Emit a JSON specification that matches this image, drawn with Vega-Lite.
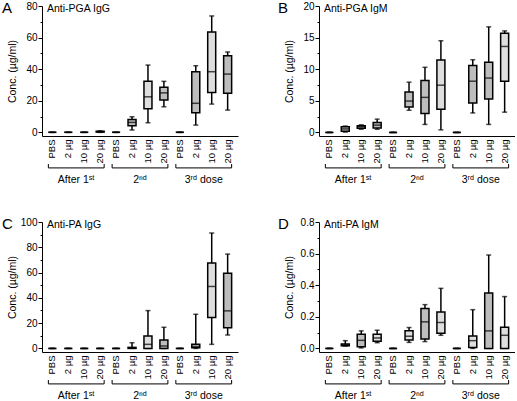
{
"$schema":"https://vega.github.io/schema/vega-lite/v6.json",
"padding":{"left":2,"top":1,"right":0,"bottom":0},
"config":{"view":{"stroke":null},"font":"Liberation Sans",
 "axis":{"domainColor":"black","tickColor":"black","labelColor":"black","titleColor":"black","labelFont":"Liberation Sans","titleFont":"Liberation Sans","labelFontSize":10,"titleFontSize":10.5,"titleFontWeight":"normal","domainWidth":1,"tickWidth":1,"grid":false,"labelOverlap":false},
 "axisX":{"labelFontSize":9.5},
 "title":{"font":"Liberation Sans","fontWeight":"normal","color":"black"}},
"datasets":{
"groups":[{"dose":"After 1ˢᵗ","first":"1|PBS","mid":"1|10 µg","last":"1|20 µg"},{"dose":"2ⁿᵈ","first":"2|PBS","mid":"2|10 µg","last":"2|20 µg"},{"dose":"3ʳᵈ dose","first":"3|PBS","mid":"3|10 µg","last":"3|20 µg"}],
"A":[{"cat":"1|PBS","lo":0,"q1":0,"med":0,"q3":0,"hi":0,"shade":"light"},{"cat":"1|2 µg","lo":0,"q1":0,"med":0,"q3":0,"hi":0,"shade":"light"},{"cat":"1|10 µg","lo":0,"q1":0,"med":0,"q3":0,"hi":0,"shade":"light"},{"cat":"1|20 µg","lo":0,"q1":0.2,"med":0.4,"q3":0.7,"hi":1.0,"shade":"dark"},
{"cat":"2|PBS","lo":0,"q1":0,"med":0,"q3":0,"hi":0,"shade":"light"},{"cat":"2|2 µg","lo":1.5,"q1":4.2,"med":6.3,"q3":8.2,"hi":9.9,"shade":"dark"},{"cat":"2|10 µg","lo":6.1,"q1":15,"med":22.5,"q3":32.3,"hi":42.6,"shade":"light"},{"cat":"2|20 µg","lo":16.2,"q1":20.5,"med":25,"q3":28.5,"hi":32.3,"shade":"dark"},
{"cat":"3|PBS","lo":0,"q1":0,"med":0,"q3":0,"hi":0,"shade":"light"},{"cat":"3|2 µg","lo":4.6,"q1":12.4,"med":18.4,"q3":38.4,"hi":42.2,"shade":"dark"},{"cat":"3|10 µg","lo":17.9,"q1":25.3,"med":38.4,"q3":63.5,"hi":73.7,"shade":"light"},{"cat":"3|20 µg","lo":14.1,"q1":24.7,"med":36.9,"q3":48.5,"hi":50.9,"shade":"dark"}],
"B":[{"cat":"1|PBS","lo":0,"q1":0,"med":0,"q3":0,"hi":0,"shade":"light"},{"cat":"1|2 µg","lo":0.05,"q1":0.2,"med":0.55,"q3":0.9,"hi":1.0,"shade":"dark"},{"cat":"1|10 µg","lo":0.5,"q1":0.65,"med":0.9,"q3":1.05,"hi":1.2,"shade":"dark"},{"cat":"1|20 µg","lo":0.5,"q1":0.7,"med":1.15,"q3":1.55,"hi":2.1,"shade":"dark"},
{"cat":"2|PBS","lo":0,"q1":0,"med":0,"q3":0,"hi":0,"shade":"light"},{"cat":"2|2 µg","lo":3.5,"q1":4.0,"med":4.96,"q3":6.4,"hi":7.95,"shade":"dark"},{"cat":"2|10 µg","lo":1.26,"q1":3.0,"med":5.54,"q3":8.2,"hi":10.3,"shade":"dark"},{"cat":"2|20 µg","lo":0.4,"q1":3.66,"med":7.47,"q3":11.46,"hi":14.5,"shade":"light"},
{"cat":"3|PBS","lo":0,"q1":0,"med":0,"q3":0,"hi":0,"shade":"light"},{"cat":"3|2 µg","lo":3.08,"q1":4.65,"med":8.1,"q3":10.6,"hi":11.5,"shade":"dark"},{"cat":"3|10 µg","lo":1.26,"q1":5.3,"med":8.6,"q3":11.1,"hi":16.7,"shade":"dark"},{"cat":"3|20 µg","lo":3.2,"q1":8.1,"med":13.6,"q3":15.7,"hi":16.06,"shade":"light"}],
"C":[{"cat":"1|PBS","lo":0,"q1":0,"med":0,"q3":0,"hi":0,"shade":"light"},{"cat":"1|2 µg","lo":0,"q1":0,"med":0,"q3":0,"hi":0,"shade":"light"},{"cat":"1|10 µg","lo":0,"q1":0,"med":0,"q3":0,"hi":0,"shade":"light"},{"cat":"1|20 µg","lo":0,"q1":0,"med":0,"q3":0,"hi":0,"shade":"light"},
{"cat":"2|PBS","lo":0,"q1":0,"med":0,"q3":0,"hi":0,"shade":"light"},{"cat":"2|2 µg","lo":0,"q1":0,"med":0.2,"q3":0.8,"hi":4.5,"shade":"dark"},{"cat":"2|10 µg","lo":0,"q1":0,"med":3.2,"q3":9.8,"hi":29.9,"shade":"light"},{"cat":"2|20 µg","lo":0,"q1":0,"med":1.9,"q3":6.6,"hi":16.7,"shade":"dark"},
{"cat":"3|PBS","lo":0,"q1":0,"med":0,"q3":0,"hi":0,"shade":"light"},{"cat":"3|2 µg","lo":0,"q1":0.5,"med":1.5,"q3":3.2,"hi":27,"shade":"dark"},{"cat":"3|10 µg","lo":3.2,"q1":24.4,"med":49,"q3":67.5,"hi":91.3,"shade":"light"},{"cat":"3|20 µg","lo":10.6,"q1":16.4,"med":29.7,"q3":59.5,"hi":74.6,"shade":"dark"}],
"D":[{"cat":"1|PBS","lo":0,"q1":0,"med":0,"q3":0,"hi":0,"shade":"light"},{"cat":"1|2 µg","lo":0.015,"q1":0.017,"med":0.022,"q3":0.028,"hi":0.049,"shade":"dark"},{"cat":"1|10 µg","lo":0.003,"q1":0.011,"med":0.051,"q3":0.09,"hi":0.111,"shade":"dark"},{"cat":"1|20 µg","lo":0.036,"q1":0.045,"med":0.066,"q3":0.09,"hi":0.115,"shade":"light"},
{"cat":"2|PBS","lo":0,"q1":0,"med":0,"q3":0,"hi":0,"shade":"light"},{"cat":"2|2 µg","lo":0.038,"q1":0.053,"med":0.077,"q3":0.111,"hi":0.132,"shade":"light"},{"cat":"2|10 µg","lo":0.043,"q1":0.06,"med":0.168,"q3":0.252,"hi":0.277,"shade":"dark"},{"cat":"2|20 µg","lo":0.083,"q1":0.096,"med":0.164,"q3":0.23,"hi":0.38,"shade":"light"},
{"cat":"3|PBS","lo":0,"q1":0,"med":0,"q3":0,"hi":0,"shade":"light"},{"cat":"3|2 µg","lo":0,"q1":0.006,"med":0.049,"q3":0.079,"hi":0.245,"shade":"light"},{"cat":"3|10 µg","lo":0,"q1":0,"med":0.111,"q3":0.35,"hi":0.591,"shade":"dark"},{"cat":"3|20 µg","lo":0,"q1":0,"med":0.083,"q3":0.134,"hi":0.328,"shade":"light"}]
},
"spacing":30,
"vconcat":[
{"hconcat":[
 {"title":{"text":"A","anchor":"start","frame":"bounds","orient":"top","offset":-15,"baseline":"top","fontSize":15,"dx":-5},
  "spacing":0,
  "vconcat":[
   {"width":196,"height":130,"data":{"name":"A"},
    "title":{"text":"Anti-PGA IgG","anchor":"start","frame":"group","orient":"top","offset":-13,"baseline":"top","fontSize":10.5,"dx":5},
    "layer":[
     {"mark":{"type":"rule","color":"black","strokeWidth":1.5},"encoding":{"x":{"field":"cat","type":"nominal","scale":{"type":"band","domain":["1|PBS","1|2 µg","1|10 µg","1|20 µg","2|PBS","2|2 µg","2|10 µg","2|20 µg","3|PBS","3|2 µg","3|10 µg","3|20 µg"],"paddingInner":0,"paddingOuter":0.15},"axis":{"title":null,"ticks":false,"labelAngle":-90,"labelAlign":"right","labelBaseline":"middle","labelPadding":3,"labelExpr":"split(datum.value,'|')[1]"}},"y":{"field":"lo","type":"quantitative","scale":{"domain":[-2.3,80],"nice":false,"zero":false},"axis":{"title":"Conc. (µg/ml)","titleX":-25,"values":[0,10,20,30,40,50,60,70,80],"tickCount":50,"format":"d","labelOverlap":false,"labelExpr":"datum.value % 20 === 0 ? datum.label : ''","tickSize":{"condition":{"test":"datum.value % 20 === 0","value":4},"value":2},"labelPadding":1}},"y2":{"field":"hi"}}},
     {"mark":{"type":"tick","color":"black","size":5,"thickness":1.5},"encoding":{"x":{"field":"cat","type":"nominal"},"y":{"field":"lo","type":"quantitative"}}},
     {"mark":{"type":"tick","color":"black","size":5,"thickness":1.5},"encoding":{"x":{"field":"cat","type":"nominal"},"y":{"field":"hi","type":"quantitative"}}},
     {"mark":{"type":"bar","stroke":"black","strokeWidth":1.5,"width":8},"encoding":{"x":{"field":"cat","type":"nominal"},"y":{"field":"q1","type":"quantitative"},"y2":{"field":"q3"},"fill":{"field":"shade","type":"nominal","scale":{"domain":["dark","light"],"range":["#bdbdbd","#dedede"]},"legend":null}}},
     {"mark":{"type":"tick","color":"black","size":8,"thickness":1.5},"encoding":{"x":{"field":"cat","type":"nominal"},"y":{"field":"med","type":"quantitative"}}}
    ]},
   {"width":196,"height":23,"data":{"name":"groups"},
    "layer":[
     {"mark":{"type":"rule","color":"black","strokeWidth":1},"encoding":{"x":{"field":"first","type":"nominal","bandPosition":0.25,"scale":{"type":"band","domain":["1|PBS","1|2 µg","1|10 µg","1|20 µg","2|PBS","2|2 µg","2|10 µg","2|20 µg","3|PBS","3|2 µg","3|10 µg","3|20 µg"],"paddingInner":0,"paddingOuter":0.15},"axis":null},"x2":{"field":"last","bandPosition":0.75},"y":{"datum":8.3,"type":"quantitative","scale":{"domain":[0,10],"nice":false,"zero":false},"axis":null}}},
     {"mark":{"type":"rule","color":"black","strokeWidth":1},"encoding":{"x":{"field":"first","type":"nominal","bandPosition":0.25},"y":{"datum":8.3,"type":"quantitative"},"y2":{"datum":10}}},
     {"mark":{"type":"rule","color":"black","strokeWidth":1},"encoding":{"x":{"field":"last","type":"nominal","bandPosition":0.75},"y":{"datum":8.3,"type":"quantitative"},"y2":{"datum":10}}},
     {"mark":{"type":"text","baseline":"alphabetic","fontSize":10.5,"font":"Liberation Sans","color":"black"},"encoding":{"x":{"field":"mid","type":"nominal","bandPosition":0},"y":{"datum":1.7,"type":"quantitative"},"text":{"field":"dose"}}}
    ]}
  ]},
 {"title":{"text":"B","anchor":"start","frame":"bounds","orient":"top","offset":-15,"baseline":"top","fontSize":15,"dx":-6},
  "spacing":0,
  "vconcat":[
   {"width":196,"height":130,"data":{"name":"B"},
    "title":{"text":"Anti-PGA IgM","anchor":"start","frame":"group","orient":"top","offset":-13,"baseline":"top","fontSize":10.5,"dx":5},
    "layer":[
     {"mark":{"type":"rule","color":"black","strokeWidth":1.5},"encoding":{"x":{"field":"cat","type":"nominal","scale":{"type":"band","domain":["1|PBS","1|2 µg","1|10 µg","1|20 µg","2|PBS","2|2 µg","2|10 µg","2|20 µg","3|PBS","3|2 µg","3|10 µg","3|20 µg"],"paddingInner":0,"paddingOuter":0.15},"axis":{"title":null,"ticks":false,"labelAngle":-90,"labelAlign":"right","labelBaseline":"middle","labelPadding":3,"labelExpr":"split(datum.value,'|')[1]"}},"y":{"field":"lo","type":"quantitative","scale":{"domain":[-0.57,20],"nice":false,"zero":false},"axis":{"title":"Conc. (µg/ml)","titleX":-25,"values":[0,2.5,5,7.5,10,12.5,15,17.5,20],"tickCount":50,"format":"~g","labelOverlap":false,"labelExpr":"datum.value % 5 === 0 ? datum.label : ''","tickSize":{"condition":{"test":"datum.value % 5 === 0","value":4},"value":2},"labelPadding":1}},"y2":{"field":"hi"}}},
     {"mark":{"type":"tick","color":"black","size":5,"thickness":1.5},"encoding":{"x":{"field":"cat","type":"nominal"},"y":{"field":"lo","type":"quantitative"}}},
     {"mark":{"type":"tick","color":"black","size":5,"thickness":1.5},"encoding":{"x":{"field":"cat","type":"nominal"},"y":{"field":"hi","type":"quantitative"}}},
     {"mark":{"type":"bar","stroke":"black","strokeWidth":1.5,"width":8},"encoding":{"x":{"field":"cat","type":"nominal"},"y":{"field":"q1","type":"quantitative"},"y2":{"field":"q3"},"fill":{"field":"shade","type":"nominal","scale":{"domain":["dark","light"],"range":["#bdbdbd","#dedede"]},"legend":null}}},
     {"mark":{"type":"tick","color":"black","size":8,"thickness":1.5},"encoding":{"x":{"field":"cat","type":"nominal"},"y":{"field":"med","type":"quantitative"}}}
    ]},
   {"width":196,"height":23,"data":{"name":"groups"},
    "layer":[
     {"mark":{"type":"rule","color":"black","strokeWidth":1},"encoding":{"x":{"field":"first","type":"nominal","bandPosition":0.25,"scale":{"type":"band","domain":["1|PBS","1|2 µg","1|10 µg","1|20 µg","2|PBS","2|2 µg","2|10 µg","2|20 µg","3|PBS","3|2 µg","3|10 µg","3|20 µg"],"paddingInner":0,"paddingOuter":0.15},"axis":null},"x2":{"field":"last","bandPosition":0.75},"y":{"datum":8.3,"type":"quantitative","scale":{"domain":[0,10],"nice":false,"zero":false},"axis":null}}},
     {"mark":{"type":"rule","color":"black","strokeWidth":1},"encoding":{"x":{"field":"first","type":"nominal","bandPosition":0.25},"y":{"datum":8.3,"type":"quantitative"},"y2":{"datum":10}}},
     {"mark":{"type":"rule","color":"black","strokeWidth":1},"encoding":{"x":{"field":"last","type":"nominal","bandPosition":0.75},"y":{"datum":8.3,"type":"quantitative"},"y2":{"datum":10}}},
     {"mark":{"type":"text","baseline":"alphabetic","fontSize":10.5,"font":"Liberation Sans","color":"black"},"encoding":{"x":{"field":"mid","type":"nominal","bandPosition":0},"y":{"datum":1.7,"type":"quantitative"},"text":{"field":"dose"}}}
    ]}
  ]}
],"spacing":40},
{"hconcat":[
 {"title":{"text":"C","anchor":"start","frame":"bounds","orient":"top","offset":-15,"baseline":"top","fontSize":15,"dx":-5},
  "spacing":0,
  "vconcat":[
   {"width":196,"height":130,"data":{"name":"C"},
    "title":{"text":"Anti-PA IgG","anchor":"start","frame":"group","orient":"top","offset":-13,"baseline":"top","fontSize":10.5,"dx":5},
    "layer":[
     {"mark":{"type":"rule","color":"black","strokeWidth":1.5},"encoding":{"x":{"field":"cat","type":"nominal","scale":{"type":"band","domain":["1|PBS","1|2 µg","1|10 µg","1|20 µg","2|PBS","2|2 µg","2|10 µg","2|20 µg","3|PBS","3|2 µg","3|10 µg","3|20 µg"],"paddingInner":0,"paddingOuter":0.15},"axis":{"title":null,"ticks":false,"labelAngle":-90,"labelAlign":"right","labelBaseline":"middle","labelPadding":3,"labelExpr":"split(datum.value,'|')[1]"}},"y":{"field":"lo","type":"quantitative","scale":{"domain":[-2.85,100],"nice":false,"zero":false},"axis":{"title":"Conc. (µg/ml)","titleX":-25,"values":[0,10,20,30,40,50,60,70,80,90,100],"tickCount":50,"format":"d","labelOverlap":false,"labelExpr":"datum.value % 20 === 0 ? datum.label : ''","tickSize":{"condition":{"test":"datum.value % 20 === 0","value":4},"value":2},"labelPadding":1}},"y2":{"field":"hi"}}},
     {"mark":{"type":"tick","color":"black","size":5,"thickness":1.5},"encoding":{"x":{"field":"cat","type":"nominal"},"y":{"field":"lo","type":"quantitative"}}},
     {"mark":{"type":"tick","color":"black","size":5,"thickness":1.5},"encoding":{"x":{"field":"cat","type":"nominal"},"y":{"field":"hi","type":"quantitative"}}},
     {"mark":{"type":"bar","stroke":"black","strokeWidth":1.5,"width":8},"encoding":{"x":{"field":"cat","type":"nominal"},"y":{"field":"q1","type":"quantitative"},"y2":{"field":"q3"},"fill":{"field":"shade","type":"nominal","scale":{"domain":["dark","light"],"range":["#bdbdbd","#dedede"]},"legend":null}}},
     {"mark":{"type":"tick","color":"black","size":8,"thickness":1.5},"encoding":{"x":{"field":"cat","type":"nominal"},"y":{"field":"med","type":"quantitative"}}}
    ]},
   {"width":196,"height":23,"data":{"name":"groups"},
    "layer":[
     {"mark":{"type":"rule","color":"black","strokeWidth":1},"encoding":{"x":{"field":"first","type":"nominal","bandPosition":0.25,"scale":{"type":"band","domain":["1|PBS","1|2 µg","1|10 µg","1|20 µg","2|PBS","2|2 µg","2|10 µg","2|20 µg","3|PBS","3|2 µg","3|10 µg","3|20 µg"],"paddingInner":0,"paddingOuter":0.15},"axis":null},"x2":{"field":"last","bandPosition":0.75},"y":{"datum":8.3,"type":"quantitative","scale":{"domain":[0,10],"nice":false,"zero":false},"axis":null}}},
     {"mark":{"type":"rule","color":"black","strokeWidth":1},"encoding":{"x":{"field":"first","type":"nominal","bandPosition":0.25},"y":{"datum":8.3,"type":"quantitative"},"y2":{"datum":10}}},
     {"mark":{"type":"rule","color":"black","strokeWidth":1},"encoding":{"x":{"field":"last","type":"nominal","bandPosition":0.75},"y":{"datum":8.3,"type":"quantitative"},"y2":{"datum":10}}},
     {"mark":{"type":"text","baseline":"alphabetic","fontSize":10.5,"font":"Liberation Sans","color":"black"},"encoding":{"x":{"field":"mid","type":"nominal","bandPosition":0},"y":{"datum":1.7,"type":"quantitative"},"text":{"field":"dose"}}}
    ]}
  ]},
 {"title":{"text":"D","anchor":"start","frame":"bounds","orient":"top","offset":-15,"baseline":"top","fontSize":15,"dx":-6},
  "spacing":0,
  "vconcat":[
   {"width":196,"height":130,"data":{"name":"D"},
    "title":{"text":"Anti-PA IgM","anchor":"start","frame":"group","orient":"top","offset":-13,"baseline":"top","fontSize":10.5,"dx":5},
    "layer":[
     {"mark":{"type":"rule","color":"black","strokeWidth":1.5},"encoding":{"x":{"field":"cat","type":"nominal","scale":{"type":"band","domain":["1|PBS","1|2 µg","1|10 µg","1|20 µg","2|PBS","2|2 µg","2|10 µg","2|20 µg","3|PBS","3|2 µg","3|10 µg","3|20 µg"],"paddingInner":0,"paddingOuter":0.15},"axis":{"title":null,"ticks":false,"labelAngle":-90,"labelAlign":"right","labelBaseline":"middle","labelPadding":3,"labelExpr":"split(datum.value,'|')[1]"}},"y":{"field":"lo","type":"quantitative","scale":{"domain":[-0.0228,0.8],"nice":false,"zero":false},"axis":{"title":"Conc. (µg/ml)","titleX":-25,"values":[0,0.1,0.2,0.3,0.4,0.5,0.6,0.7,0.8],"tickCount":50,"labelOverlap":false,"format":".1f","labelExpr":"round(datum.value*10) % 2 === 0 ? datum.label : ''","tickSize":{"condition":{"test":"round(datum.value*10) % 2 === 0","value":4},"value":2},"labelPadding":1}},"y2":{"field":"hi"}}},
     {"mark":{"type":"tick","color":"black","size":5,"thickness":1.5},"encoding":{"x":{"field":"cat","type":"nominal"},"y":{"field":"lo","type":"quantitative"}}},
     {"mark":{"type":"tick","color":"black","size":5,"thickness":1.5},"encoding":{"x":{"field":"cat","type":"nominal"},"y":{"field":"hi","type":"quantitative"}}},
     {"mark":{"type":"bar","stroke":"black","strokeWidth":1.5,"width":8},"encoding":{"x":{"field":"cat","type":"nominal"},"y":{"field":"q1","type":"quantitative"},"y2":{"field":"q3"},"fill":{"field":"shade","type":"nominal","scale":{"domain":["dark","light"],"range":["#bdbdbd","#dedede"]},"legend":null}}},
     {"mark":{"type":"tick","color":"black","size":8,"thickness":1.5},"encoding":{"x":{"field":"cat","type":"nominal"},"y":{"field":"med","type":"quantitative"}}}
    ]},
   {"width":196,"height":23,"data":{"name":"groups"},
    "layer":[
     {"mark":{"type":"rule","color":"black","strokeWidth":1},"encoding":{"x":{"field":"first","type":"nominal","bandPosition":0.25,"scale":{"type":"band","domain":["1|PBS","1|2 µg","1|10 µg","1|20 µg","2|PBS","2|2 µg","2|10 µg","2|20 µg","3|PBS","3|2 µg","3|10 µg","3|20 µg"],"paddingInner":0,"paddingOuter":0.15},"axis":null},"x2":{"field":"last","bandPosition":0.75},"y":{"datum":8.3,"type":"quantitative","scale":{"domain":[0,10],"nice":false,"zero":false},"axis":null}}},
     {"mark":{"type":"rule","color":"black","strokeWidth":1},"encoding":{"x":{"field":"first","type":"nominal","bandPosition":0.25},"y":{"datum":8.3,"type":"quantitative"},"y2":{"datum":10}}},
     {"mark":{"type":"rule","color":"black","strokeWidth":1},"encoding":{"x":{"field":"last","type":"nominal","bandPosition":0.75},"y":{"datum":8.3,"type":"quantitative"},"y2":{"datum":10}}},
     {"mark":{"type":"text","baseline":"alphabetic","fontSize":10.5,"font":"Liberation Sans","color":"black"},"encoding":{"x":{"field":"mid","type":"nominal","bandPosition":0},"y":{"datum":1.7,"type":"quantitative"},"text":{"field":"dose"}}}
    ]}
  ]}
],"spacing":40}
]
}
